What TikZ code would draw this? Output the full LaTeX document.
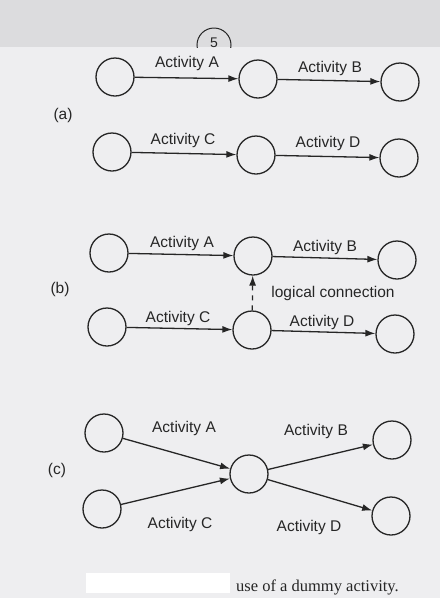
\documentclass[tikz,border=0pt]{standalone}
\usepackage{fontspec}
\setmainfont{Liberation Serif}
\newfontfamily\labfont{Liberation Sans}
\usetikzlibrary{arrows.meta}
\definecolor{paper}{HTML}{EEEEF0}
\definecolor{paperdark}{HTML}{DCDCDE}
\definecolor{ink}{HTML}{262626}

\begin{document}
\begin{tikzpicture}[x=1pt, y=-1pt,
    ev/.style={circle,draw=ink,line width=1.3pt,minimum size=38pt,inner sep=0pt},
    act/.style={draw=ink,line width=1.3pt,-{Latex[length=10pt,width=7pt]}},
    dummy/.style={act,dash pattern=on 5pt off 5pt},
    lab/.style={font=\labfont\fontsize{15.5}{18}\selectfont,text=ink},
    part/.style={font=\labfont\fontsize{15.5}{18}\selectfont,text=ink}]
  % page
  \useasboundingbox (0,0) rectangle (440,598);
  \fill[paper] (0,0) rectangle (440,598);
  \fill[paperdark] (0,0) rectangle (440,47);
  \fill[white] (86,573) rectangle (230,593);
  \begin{scope}
    \clip (0,0) rectangle (440,47);
    \draw[ink,line width=1pt] (214,45) circle (17);
    \node[font=\labfont\fontsize{14}{16}\selectfont,text=ink] (pg) at (214,43) {5};
  \end{scope}

  % events
  \foreach \nm/\x/\y in {%
    a1/115/77, a2/258/79, a3/400/82,
    a4/112/152, a5/256/155, a6/399/158,
    b1/109/253, b2/253/256, b3/397/260,
    b4/107/327, b5/252/330, b6/395/334,
    c1/104/433, c2/102/509, c3/249/474, c4/392/440, c5/391/516}{
      \node[ev] (\nm) at (\x,\y) {};
  }

  % activities
  \foreach \s/\t in {a1/a2, a2/a3, a4/a5, a5/a6,
                     b1/b2, b2/b3, b4/b5, b5/b6,
                     c1/c3, c2/c3, c3/c4, c3/c5}{
      \draw[act] (\s) -- (\t);
  }
  \draw[dummy] (b5) -- (b2);

  % activity labels
  \foreach \nm/\x/\y/\txt in {%
    la1/187/63/A, la2/330/68/B, la3/183/140/C, la4/328/143/D,
    lb1/182/243/A, lb2/325/247/B, lb3/178/318/C, lb4/322/322/D,
    lc1/184/428/A, lc2/316/431/B, lc3/180/524/C, lc4/309/527/D}{
      \node[lab] (\nm) at (\x,\y) {Activity \txt};
  }
  \node[lab] (logic) at (333,293) {logical connection};

  % parts
  \node[part] (pa) at (63,115) {(a)};
  \node[part] (pb) at (60,289) {(b)};
  \node[part] (pc) at (57,470) {(c)};

  % caption
  \node[anchor=west,font=\fontsize{16.5}{19}\selectfont,text=ink,inner sep=0pt] (cap) at (236,587) {use of a dummy activity.};
\end{tikzpicture}
\end{document}
